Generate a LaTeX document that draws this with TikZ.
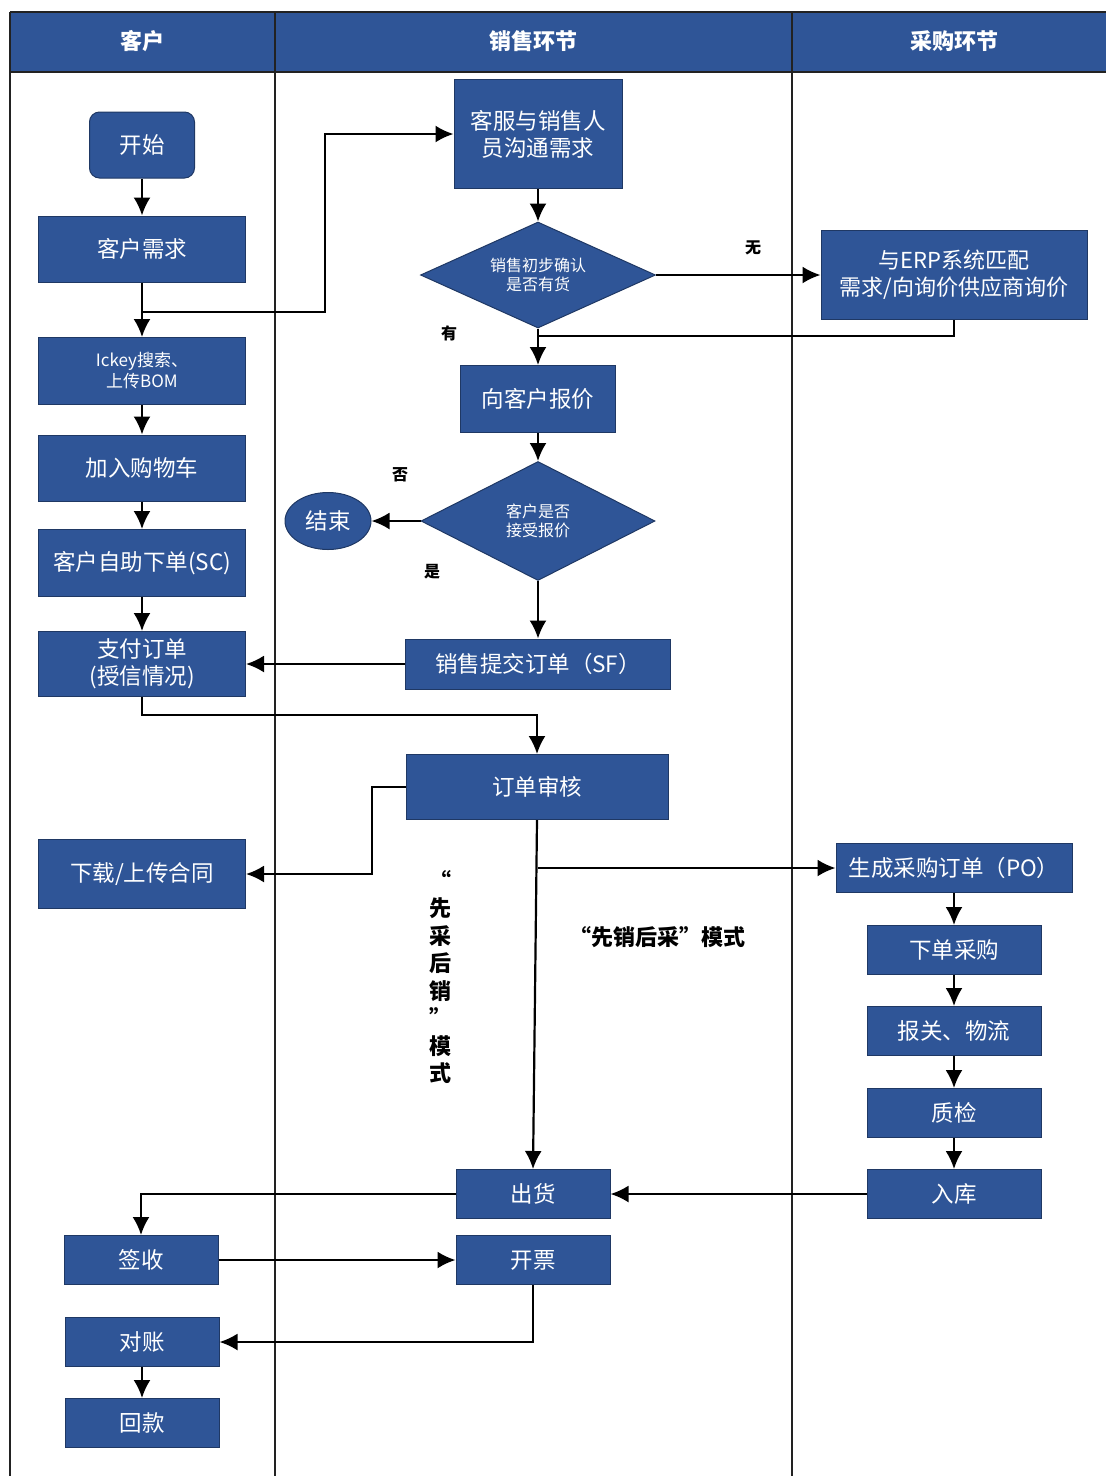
\documentclass[tikz,border=0pt]{standalone}
\usepackage{fontspec}
\setmainfont{Noto Sans CJK SC}
\usetikzlibrary{arrows.meta,shapes.geometric,calc}
\definecolor{hdr}{HTML}{2F5597}
\definecolor{boxfill}{HTML}{2F5597}
\definecolor{boxline}{HTML}{1F3864}
\definecolor{lane}{HTML}{222222}
\tikzset{
  box/.style={draw=boxline, line width=1pt, fill=boxfill, text=white, inner sep=0pt,
    font=\fontsize{22.5}{26}\selectfont, align=center},
  dec/.style={diamond, aspect=2.2, draw=boxline, line width=1pt, fill=boxfill, text=white, inner sep=0pt,
    font=\fontsize{16}{19}\selectfont, align=center},
  conn/.style={draw=black, line width=2.2pt, -{Latex[length=18pt,width=17pt]}},
  plain/.style={draw=black, line width=2.2pt},
  lbl/.style={font=\bfseries\fontsize{16}{18}\selectfont, inner sep=0pt},
  hdrtext/.style={text=white, font=\bfseries\fontsize{22}{24}\selectfont},
  lanel/.style={draw=lane, line width=1.5pt}
}
\begin{document}
\begin{tikzpicture}[x=1pt,y=-1pt]
\useasboundingbox (0,0) rectangle (1108,1476);
% lanes and header
\fill[hdr] (10,12) rectangle (1106,72);
\draw[lanel] (10,12) -- (1106,12);
\draw[lanel] (10,72) -- (1106,72);
\draw[lanel] (10,12) -- (10,1476);
\draw[lanel] (275,12) -- (275,1476);
\draw[lanel] (792,12) -- (792,1476);
\node[hdrtext] (h1) at (142,41) {客户};
\node[hdrtext] (h2) at (533,41) {销售环节};
\node[hdrtext] (h3) at (954,41) {采购环节};

% customer lane
\node[box, rounded corners=10pt, minimum width=105pt, minimum height=66pt] (ks) at (142,145) {开始};
\node[box, minimum width=207pt, minimum height=66pt] (xq) at (142,249) {客户需求};
\node[box, minimum width=207pt, minimum height=67pt, font=\fontsize{17}{21}\selectfont] (ick) at (142,371) {Ickey搜索、\\上传BOM};
\node[box, minimum width=207pt, minimum height=66pt] (gwc) at (142,468) {加入购物车};
\node[box, minimum width=207pt, minimum height=67pt] (sc) at (142,563) {客户自助下单(SC)};
\node[box, minimum width=207pt, minimum height=65pt, font=\fontsize{22.5}{27}\selectfont] (zf) at (142,664) {支付订单\\(授信情况)};
\node[box, minimum width=207pt, minimum height=69pt] (ht) at (142,874) {下载/上传合同};
\node[box, minimum width=154pt, minimum height=49pt] (qs) at (141,1260) {签收};
\node[box, minimum width=154pt, minimum height=49pt] (dz) at (142,1342) {对账};
\node[box, minimum width=154pt, minimum height=49pt] (hk) at (142,1423) {回款};

% sales lane
\node[box, minimum width=168pt, minimum height=109pt, font=\fontsize{22.5}{27}\selectfont] (kf) at (538,134) {客服与销售人\\员沟通需求};
\node[dec, minimum width=235pt, minimum height=106pt] (d1) at (538,275) {销售初步确认\\是否有货};
\node[box, minimum width=155pt, minimum height=67pt] (bj) at (538,399) {向客户报价};
\node[dec, minimum width=234pt, minimum height=119pt] (d2) at (538,521) {客户是否\\接受报价};
\node[ellipse, draw=boxline, line width=1pt, fill=boxfill, text=white, inner sep=0pt,
  minimum width=86pt, minimum height=57pt, font=\fontsize{22.5}{26}\selectfont] (js) at (328,521) {结束};
\node[box, minimum width=265pt, minimum height=50pt] (sf) at (538,664) {销售提交订单（SF）};
\node[box, minimum width=262pt, minimum height=65pt] (shz) at (537,787) {订单审核};
\node[box, minimum width=154pt, minimum height=49pt] (ch) at (533,1194) {出货};
\node[box, minimum width=154pt, minimum height=49pt] (kp) at (533,1260) {开票};

% purchase lane
\node[box, minimum width=266pt, minimum height=89pt, font=\fontsize{22}{27}\selectfont] (erp) at (954,275) {与ERP系统匹配\\需求/向询价供应商询价};
\node[box, minimum width=236pt, minimum height=49pt] (po) at (954,868) {生成采购订单（PO）};
\node[box, minimum width=174pt, minimum height=49pt] (xd) at (954,950) {下单采购};
\node[box, minimum width=174pt, minimum height=49pt] (wl) at (954,1031) {报关、物流};
\node[box, minimum width=174pt, minimum height=49pt] (zj) at (954,1113) {质检};
\node[box, minimum width=174pt, minimum height=49pt] (rk) at (954,1194) {入库};

% labels
\node[lbl] (lw) at (753,248) {无};
\node[lbl] (ly) at (449,333) {有};
\node[lbl] (lf) at (400,475) {否};
\node[lbl] (ls) at (432,572) {是};
\node[font=\bfseries\fontsize{22}{24}\selectfont, inner sep=0pt] (m1) at (657,937) {“先销后采”模式};
\node[font=\bfseries\fontsize{22}{27.5}\selectfont, inner sep=0pt, align=center] (m2) at (440,977) {“\\先\\采\\后\\销\\”\\模\\式};

% connectors
\coordinate (j0) at (142,312);
\coordinate (j1) at (538,336);
\coordinate (j2) at (538,868);
\draw[conn] (ks) -- (xq);
\draw[conn] (xq) -- (ick);
\draw[conn] (j0) -- (325,312) |- (kf.west);
\draw[conn] (ick) -- (gwc);
\draw[conn] (gwc) -- (sc);
\draw[conn] (sc) -- (zf);
\draw[conn] (kf) -- (d1);
\draw[conn] (d1.east) -- (erp.west);
\draw[conn] (d1.south) -- (bj.north);
\draw[plain] (erp.south) |- (j1);
\draw[conn] (bj) -- (d2);
\draw[conn] (d2.west) -- (js.east);
\draw[conn] (d2.south) -- (sf.north);
\draw[conn] (sf.west) -- (zf.east);
\draw[conn] (zf.south) -- (142,715) -| (shz.north);
\draw[conn] (shz.west) -- (372,787) |- (ht.east);
\draw[conn] (shz.south) -- (ch.north);
\draw[conn] (j2) -- (po.west);
\draw[conn] (po) -- (xd);
\draw[conn] (xd) -- (wl);
\draw[conn] (wl) -- (zj);
\draw[conn] (zj) -- (rk);
\draw[conn] (rk.west) -- (ch.east);
\draw[conn] (ch.west) -| (qs.north);
\draw[conn] (qs.east) -- (kp.west);
\draw[conn] (kp.south) |- (dz.east);
\draw[conn] (dz) -- (hk);
\end{tikzpicture}
\end{document}
